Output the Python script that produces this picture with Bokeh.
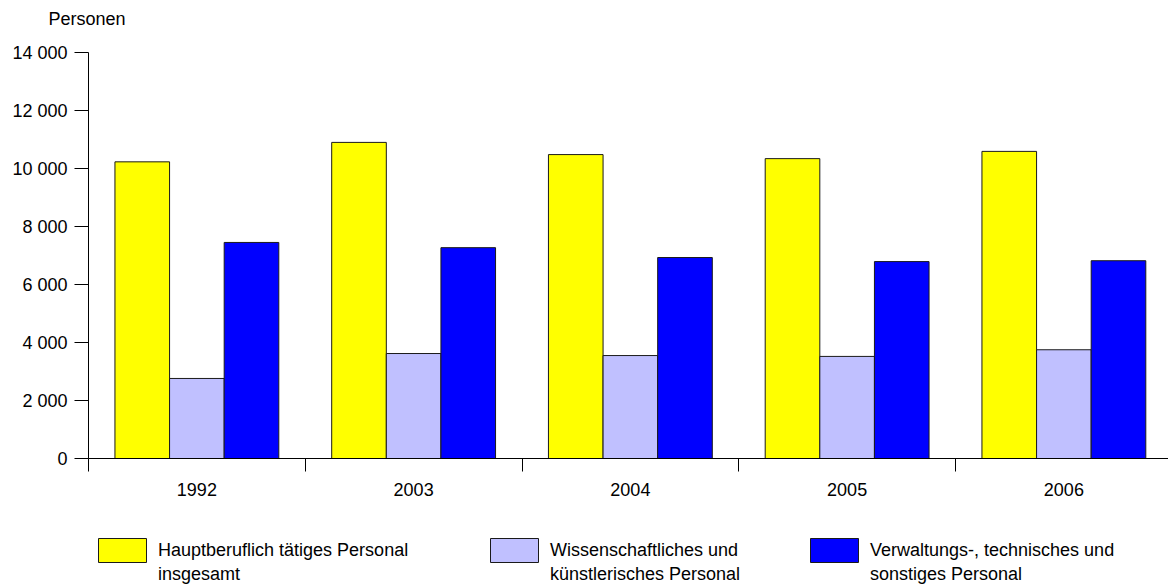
from bokeh.plotting import figure
from bokeh.layouts import column
from bokeh.models import Range1d, FixedTicker, Legend, LegendItem, ColumnDataSource, Title
from bokeh.embed import file_html
from bokeh.resources import INLINE

years = ["1992", "2003", "2004", "2005", "2006"]
label_line1 = ["Hauptberuflich tätiges Personal", "Wissenschaftliches und",
               "Verwaltungs-, technisches und"]
label_line2 = ["insgesamt", "künstlerisches Personal", "sonstiges Personal"]
gesamt = [10230, 10900, 10480, 10340, 10590]
wissenschaft = [2760, 3620, 3550, 3520, 3750]
verwaltung = [7450, 7270, 6930, 6790, 6820]
colors = ["#FFFF00", "#C0C0FF", "#0000FF"]
y_ticks = [0, 2000, 4000, 6000, 8000, 10000, 12000, 14000]

FONT = "Liberation Sans"
FS = "18px"
W = 1168
H1 = 514
H2 = 584 - H1

p = figure(width=W, height=H1, output_backend="svg", toolbar_location=None,
           x_range=Range1d(0, (W - 88) / 216.75), y_range=Range1d(0, 14000),
           min_border_left=88, min_border_right=0, min_border_top=52,
           min_border_bottom=H1 - 458, title="Personen")
p.outline_line_color = None
p.grid.visible = False
p.title.text_font = FONT
p.title.text_font_size = FS
p.title.text_font_style = "normal"
p.title.text_color = "black"
p.title.align = "left"
p.title.offset = -40
p.title.standoff = 0
# spacer between the unit title and the plot area
p.add_layout(Title(text=" ", text_font_size="2px", standoff=20), "above")

centers = [i + 0.5 for i in range(len(years))]
bw = 0.252
sources = []
for k, vals in enumerate([gesamt, wissenschaft, verwaltung]):
    src = ColumnDataSource(dict(x=[c + (k - 1) * bw for c in centers], top=vals))
    sources.append(src)
    p.vbar(x="x", top="top", width=bw, bottom=0, source=src,
           fill_color=colors[k], line_color="#1a1a1a", line_width=1)

xa = p.xaxis[0]
xa.ticker = FixedTicker(ticks=centers, minor_ticks=[0, 1, 2, 3, 4])
xa.major_label_overrides = {c: y for c, y in zip(centers, years)}
xa.major_tick_out = 0
xa.major_tick_in = 0
xa.minor_tick_out = 13
xa.minor_tick_in = 0
xa.minor_tick_line_color = "black"
xa.axis_line_color = "black"
xa.major_label_text_font = FONT
xa.major_label_text_font_size = FS
xa.major_label_text_color = "black"
xa.major_label_standoff = 11

ya = p.yaxis[0]
ya.ticker = FixedTicker(ticks=y_ticks, minor_ticks=[])
ya.major_label_overrides = {t: f"{t:,}".replace(",", " ") for t in y_ticks}
ya.major_tick_out = 14
ya.major_tick_in = 0
ya.major_tick_line_color = "black"
ya.axis_line_color = "black"
ya.major_label_text_font = FONT
ya.major_label_text_font_size = FS
ya.major_label_text_color = "black"
ya.major_label_standoff = 7

# legend strip (frame aligned with the chart frame above)
q = figure(width=W, height=H2, output_backend="svg", toolbar_location=None,
           x_range=p.x_range, y_range=Range1d(0, 1),
           x_axis_type=None, y_axis_type=None,
           min_border_left=88, min_border_right=0, min_border_top=0, min_border_bottom=0)
q.outline_line_color = None
q.grid.visible = False
swatch_left = [98, 490, 810]
common = dict(border_line_color=None, background_fill_alpha=0, inactive_fill_alpha=0,
              padding=0, margin=0, glyph_width=60, glyph_height=30,
              label_text_font=FONT, label_text_font_size=FS, label_text_color="black",
              label_standoff=6, orientation="vertical")
for k in range(3):
    r = q.vbar(x="x", top="top", width=bw, source=sources[k], visible=False,
               fill_color=colors[k], line_color="#1a1a1a", line_width=1)
    r2 = q.vbar(x="x", top="top", width=bw, source=sources[k], visible=False,
                fill_alpha=0, line_alpha=0)
    lx = swatch_left[k] - 6 - 88
    q.add_layout(Legend(items=[LegendItem(label=label_line1[k], renderers=[r])],
                        location=(lx, 19), **common), "center")
    q.add_layout(Legend(items=[LegendItem(label=label_line2[k], renderers=[r2])],
                        location=(lx, -5), **common), "center")

layout = column(p, q, spacing=0)
open("out.html", "w").write(file_html(layout, INLINE))
